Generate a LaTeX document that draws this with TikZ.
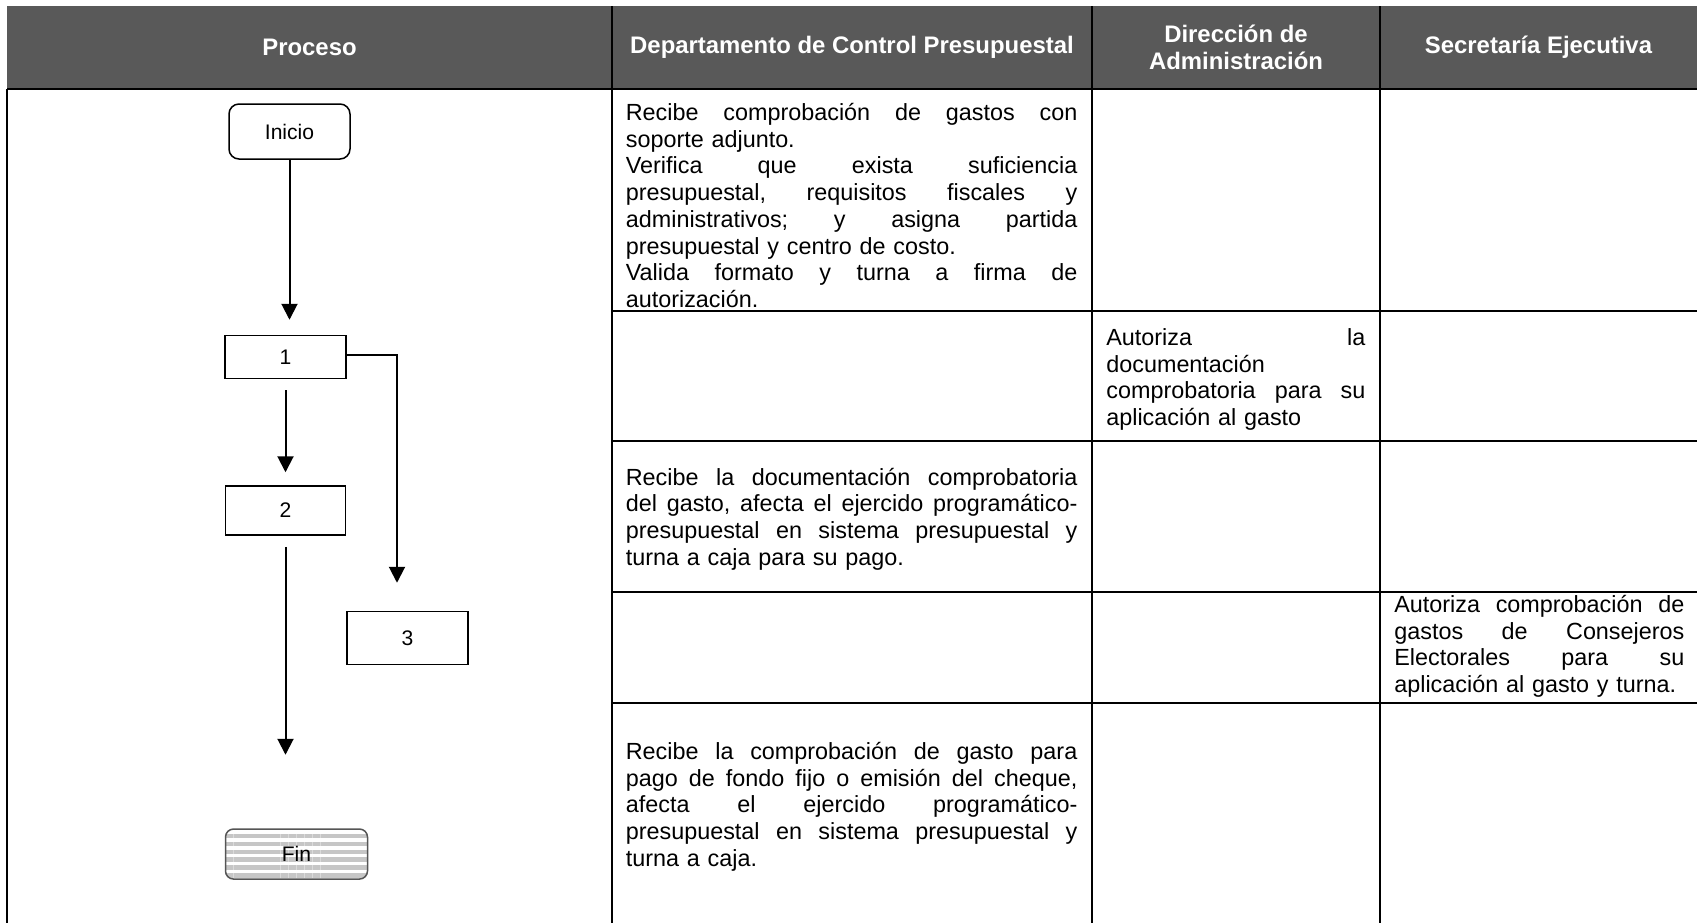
\documentclass[tikz,border=0pt]{standalone}
\usepackage{fontspec}
\setmainfont{Liberation Sans}
\usepackage{tikz}
\usetikzlibrary{positioning,arrows.meta,patterns.meta}
\definecolor{headgray}{RGB}{89,89,89}
\definecolor{finline}{RGB}{85,85,85}
\newcommand{\jl}[2][9.03cm]{\leavevmode\hbox to #1{\frenchspacing\spaceskip=0.278em plus 1fil\relax #2}}
\tikzset{proc node/.style={rectangle,draw,line width=0.03cm,minimum width=2.42cm,inner sep=0pt,font=\fontsize{12}{14}\selectfont},
term node/.style={proc node,rounded corners=0.2cm,minimum height=1.1cm},
fin node/.style={proc node,draw=finline,rounded corners=0.16cm,minimum width=2.84cm,minimum height=1cm,pattern={Lines[angle=0,distance=4.5pt,line width=2.6pt]},pattern color=gray!45},
flow/.style={line width=0.04cm,-{Triangle[length=0.32cm,width=0.32cm]}},
grid line/.style={line width=0.04cm},
head text/.style={text=white,align=center,font=\fontsize{13.6}{15}\selectfont\bfseries},
cell text/.style={anchor=north west,inner sep=0pt,align=left,font=\fontsize{13.3}{15.2}\selectfont},}

\begin{document}
\begin{tikzpicture}
    \useasboundingbox (0,0) rectangle (33.94,-18.46);

    % header
    \fill[headgray] (0.14,-0.12) rectangle (33.94,-1.78);
    \node[head text] (h1) at (6.19,-0.95) {Proceso};
    \node[head text] (h2) at (17.04,-0.95) {Departamento de Control Presupuestal};
    \node[head text] (h3) at (24.72,-0.95) {Dirección de\\Administración};
    \node[head text] (h4) at (30.77,-0.95) {Secretaría Ejecutiva};

    % table
    \draw[grid line] (0.14,-1.78) -- (33.94,-1.78);
    \draw[grid line] (0.14,-1.78) -- (0.14,-18.46);
    \foreach \x in {12.24,21.84,27.6}
        \draw[grid line] (\x,-0.12) -- (\x,-18.46);
    \foreach \y in {-6.22,-8.82,-11.84,-14.06}
        \draw[grid line] (12.24,\y) -- (33.94,\y);

    \node[cell text,text width=9.03cm] (t1) at (12.51,-2.06) {\jl{Recibe comprobación de gastos con}\\
        soporte adjunto.\\
        \jl{Verifica que exista suficiencia}\\
        \jl{presupuestal, requisitos fiscales y}\\
        \jl{administrativos; y asigna partida}\\
        presupuestal y centro de costo.\\
        \jl{Valida formato y turna a firma de}\\
        autorización.};
    \node[cell text,text width=5.18cm] (t2) at (22.12,-6.56) {\jl[5.18cm]{Autoriza la}\\
        documentación\\
        \jl[5.18cm]{comprobatoria para su}\\
        aplicación al gasto};
    \node[cell text,text width=9.03cm] (t3) at (12.51,-9.35) {\jl{Recibe la documentación comprobatoria}\\
        \jl{del gasto, afecta el ejercido programático-}\\
        \jl{presupuestal en sistema presupuestal y}\\
        turna a caja para su pago.};
    \node[cell text,text width=5.8cm] (t4) at (27.88,-11.9) {\jl[5.8cm]{Autoriza comprobación de}\\
        \jl[5.8cm]{gastos de Consejeros}\\
        \jl[5.8cm]{Electorales para su}\\
        aplicación al gasto y turna.};
    \node[cell text,text width=9.03cm] (t5) at (12.51,-14.84) {\jl{Recibe la comprobación de gasto para}\\
        \jl{pago de fondo fijo o emisión del cheque,}\\
        \jl{afecta el ejercido programático-}\\
        \jl{presupuestal en sistema presupuestal y}\\
        turna a caja.};

    % proceso
    \node[term node] (inicio) at (5.79,-2.63) {Inicio};
    \node[proc node,minimum height=0.86cm] (1) [below=3.5cm of inicio,xshift=-0.08cm] {1};
    \node[proc node,minimum width=2.4cm,minimum height=0.98cm] (2) [below=2.12cm of 1] {2};
    \node[proc node,minimum height=1.06cm] (3) [below right=1.5cm and 0cm of 2] {3};
    \node[fin node] (fin) [below=5.82cm of 2,xshift=0.22cm] {Fin};

    \path[draw,flow]
    (inicio) edge[shorten >=0.3cm] (inicio |- 1.north)
    (1) edge[shorten <=0.22cm,shorten >=0.26cm] (2)
    (2) edge[shorten <=0.22cm,shorten >=1.44cm] (2 |- fin.north)
    ;
    \draw[flow] ([yshift=0.05cm]1.east) -| ([xshift=-0.21cm,yshift=0.56cm]3.north);
\end{tikzpicture}
\end{document}
